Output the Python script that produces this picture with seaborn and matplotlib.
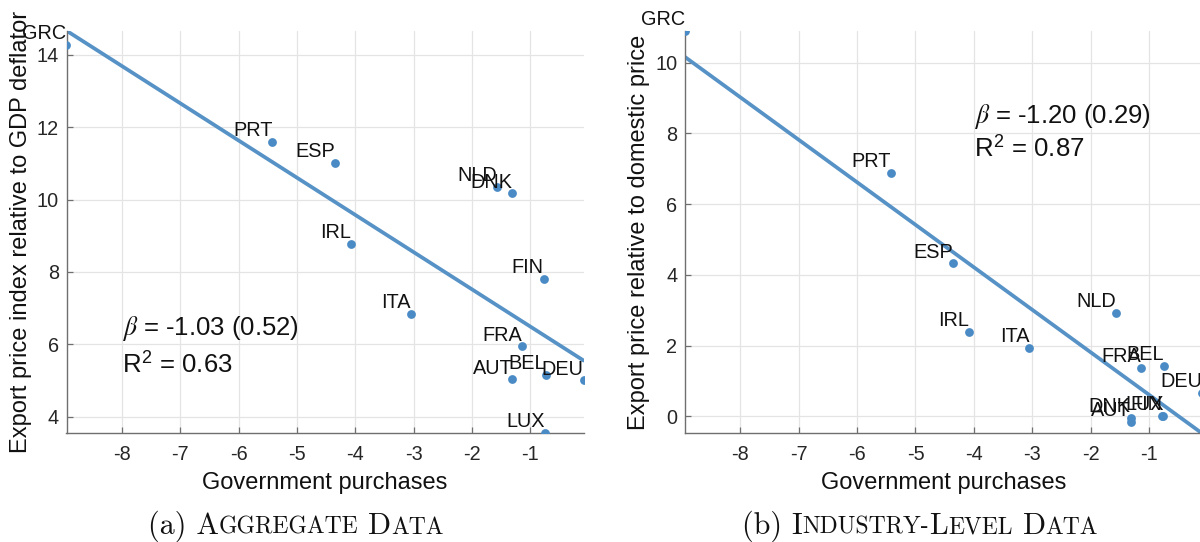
import numpy as np
import pandas as pd
import matplotlib
matplotlib.use("Agg")
import matplotlib.pyplot as plt
import seaborn as sns
from matplotlib.offsetbox import TextArea, HPacker, AnchoredOffsetbox

# Country codes and government-purchases change (shared by both panels)
countries = ["GRC", "PRT", "ESP", "NLD", "DNK", "IRL", "FIN",
             "ITA", "FRA", "AUT", "BEL", "DEU", "LUX"]
gov_purchases = [-8.95, -5.42, -4.35, -1.57, -1.31, -4.08, -0.77,
                 -3.05, -1.14, -1.31, -0.74, -0.09, -0.75]

# Export price measures
export_price_aggregate = [14.28, 11.60, 11.01, 10.35, 10.17, 8.77, 7.80,
                          6.83, 5.94, 5.03, 5.16, 5.00, 3.54]
export_price_industry = [10.90, 6.88, 4.32, 2.93, -0.04, 2.38, 0.01,
                         1.93, 1.37, -0.16, 1.42, 0.65, 0.01]

# Regression summaries shown in each panel
beta_labels = ["-1.03 (0.52)", "-1.20 (0.29)"]
r2_labels = ["0.63", "0.87"]

y_labels = ["Export price index relative to GDP deflator",
            "Export price relative to domestic price"]
x_label = "Government purchases"
x_ticks = [-8, -7, -6, -5, -4, -3, -2, -1]
y_ticks = [[4, 6, 8, 10, 12, 14], [0, 2, 4, 6, 8, 10]]

sns.set_theme(style="whitegrid")
plt.rcParams.update({
    "font.family": ["Liberation Sans", "DejaVu Sans"],
    "axes.unicode_minus": False,
    "axes.xmargin": 0.0,
    "axes.ymargin": 0.0,
    "mathtext.fontset": "custom",
    "mathtext.rm": "Liberation Sans",
    "mathtext.it": "STIXGeneral:italic",
    "grid.color": "#e4e4e4",
    "grid.linewidth": 0.9,
})

DOT = "#4a8bc6"
LINE = "#5792c6"
SPINE = "#6f6f6f"
TXT = "#262626"

W, H = 1200, 542
fig = plt.figure(figsize=(W / 100, H / 100), dpi=100)
fig.patch.set_facecolor("white")


def px_axes(left, top, right, bottom):
    return fig.add_axes([left / W, 1 - bottom / H, (right - left) / W, (bottom - top) / H])


ax_a = px_axes(66.5, 30.7, 583.5, 433.3)
ax_b = px_axes(685.0, 30.7, 1202.0, 433.3)

panels = [
    (ax_a, export_price_aggregate, (-8.0, 6.26), (-8.0, 5.21)),
    (ax_b, export_price_industry, (-4.0, 8.28), (-4.0, 7.33)),
]

for i, (ax, yvals, beta_pos, r2_pos) in enumerate(panels):
    df = pd.DataFrame({"country": countries, "gov": gov_purchases, "price": yvals})
    sns.regplot(data=df, x="gov", y="price", ax=ax, ci=None, truncate=True,
                scatter_kws=dict(s=40, color=DOT, linewidths=0, alpha=1, zorder=3),
                line_kws=dict(color=LINE, lw=2.7, zorder=2))
    ax.autoscale_view()

    for name, xv, yv in zip(df["country"], df["gov"], df["price"]):
        ax.annotate(name, (xv, yv), xytext=(0, 4.2), textcoords="offset points",
                    ha="right", va="baseline", fontsize=14.3, color="#111111",
                    annotation_clip=False, zorder=4)

    ax.text(*beta_pos, r"$\beta$ = " + beta_labels[i], fontsize=18.5, color="#111111",
            ha="left", va="baseline")
    ax.text(*r2_pos, r"R$^2$ = " + r2_labels[i], fontsize=18.5, color="#111111",
            ha="left", va="baseline")

    ax.set_xticks(x_ticks)
    ax.set_yticks(y_ticks[i])
    ax.set_xticklabels([str(t) for t in x_ticks])
    ax.set_yticklabels([str(t) for t in y_ticks[i]])
    ax.set_xlabel(x_label, fontsize=17, color="#111111")
    ax.set_ylabel(y_labels[i], fontsize=17, color="#111111")
    ax.xaxis.set_label_coords(0.5, -0.096)
    ax.yaxis.set_label_coords(-0.067, 0.5)

    for side in ["top", "right"]:
        ax.spines[side].set_visible(False)
    for side in ["left", "bottom"]:
        ax.spines[side].set_color(SPINE)
        ax.spines[side].set_linewidth(1.0)
    ax.tick_params(axis="both", direction="in", length=4, width=0.9, color=SPINE,
                   labelsize=14.3, labelcolor=TXT, left=True, bottom=True)
    ax.tick_params(axis="x", pad=8.5)
    ax.tick_params(axis="y", pad=5.5)
    ax.set_facecolor("white")
    ax.grid(True, color="#e4e4e4", linewidth=0.9)
    ax.set_axisbelow(True)


def caption(parts, xcenter):
    boxes = [TextArea(txt, textprops=dict(family="cmr10", size=21.7 if big else 17.0,
                                          color="#111111"))
             for txt, big in parts]
    pack = HPacker(children=boxes, align="baseline", pad=0, sep=0)
    box = AnchoredOffsetbox(loc="lower center", child=pack, pad=0, borderpad=0,
                            frameon=False, bbox_to_anchor=(xcenter, 0.0),
                            bbox_transform=fig.transFigure)
    fig.add_artist(box)


caption([("(a) A", True), ("GGREGATE", False), (" D", True), ("ATA", False)], 296 / W)
caption([("(b) I", True), ("NDUSTRY-", False), ("L", True), ("EVEL", False),
         (" D", True), ("ATA", False)], 920 / W)

fig.savefig("out.png", dpi=100, facecolor="white")
